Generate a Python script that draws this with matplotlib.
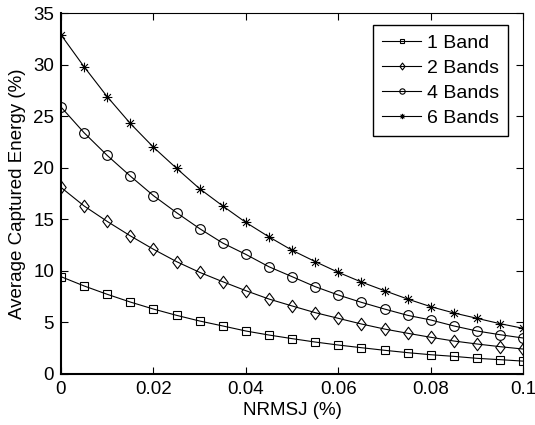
import matplotlib.pyplot as plt
import numpy as np
from matplotlib.path import Path

plt.rcParams['font.family'] = ['Liberation Sans', 'DejaVu Sans']

nrmsj = np.arange(21) * 0.005

band1 = [9.44, 8.54, 7.73, 6.98, 6.30, 5.69, 5.14, 4.66, 4.17, 3.78, 3.43,
         3.10, 2.81, 2.55, 2.30, 2.07, 1.87, 1.71, 1.52, 1.39, 1.25]
band2 = [18.1, 16.3, 14.8, 13.4, 12.1, 10.9, 9.86, 8.95, 8.08, 7.27, 6.60,
         5.95, 5.40, 4.85, 4.36, 3.95, 3.56, 3.20, 2.91, 2.65, 2.42]
band4 = [25.9, 23.4, 21.2, 19.2, 17.3, 15.65, 14.1, 12.7, 11.6, 10.4, 9.44,
         8.47, 7.66, 6.95, 6.30, 5.69, 5.24, 4.66, 4.17, 3.81, 3.49]
band6 = [32.9, 29.8, 26.9, 24.3, 22.0, 19.95, 17.97, 16.3, 14.7, 13.3, 12.0,
         10.9, 9.86, 8.92, 8.08, 7.27, 6.53, 5.92, 5.40, 4.88, 4.43]

labels = ['1 Band', '2 Bands', '4 Bands', '6 Bands']

# matlab-like diamond and asterisk markers
diamond = Path([(0, 1), (0.75, 0), (0, -1), (-0.75, 0), (0, 1)],
               [Path.MOVETO, Path.LINETO, Path.LINETO, Path.LINETO, Path.CLOSEPOLY])
d = 0.7071
asterisk = Path([(0, -1), (0, 1), (-1, 0), (1, 0), (-d, -d), (d, d), (-d, d), (d, -d)],
                [Path.MOVETO, Path.LINETO] * 4)

markers = ['s', diamond, 'o', asterisk]
sizes = [5.5, 9, 7, 7]

fig = plt.figure(figsize=(5.35, 4.25), dpi=100)
ax = fig.add_axes([0.114, 0.12, 0.864, 0.849])

for y, lab, m, s in zip([band1, band2, band4, band6], labels, markers, sizes):
    ax.plot(nrmsj, y, color='black', linewidth=0.8, marker=m, markersize=s,
            markerfacecolor='none', markeredgewidth=0.8,
            markeredgecolor='black', label=lab)

ax.set_xlim(0, 0.1)
ax.set_ylim(0, 35)
ax.set_xticks([0, 0.02, 0.04, 0.06, 0.08, 0.1])
ax.set_xticklabels(['0', '0.02', '0.04', '0.06', '0.08', '0.1'])
ax.set_yticks(range(0, 36, 5))
ax.tick_params(direction='in', top=True, right=True, labelsize=13.5, length=5, width=0.8, pad=5)
for sp in ax.spines.values():
    sp.set_linewidth(0.8)
ax.spines['left'].set_linewidth(1.5)
ax.spines['bottom'].set_linewidth(1.5)

ax.set_xlabel('NRMSJ (%)', fontsize=13.5, labelpad=3)
ax.set_ylabel('Average Captured Energy (%)', fontsize=13.5, labelpad=5)

leg = ax.legend(loc='upper right', fontsize=14, markerscale=0.55, fancybox=False,
                edgecolor='black', framealpha=1, handlelength=2.0, handletextpad=0.3,
                labelspacing=0.38, borderpad=0.48, borderaxespad=0,
                bbox_to_anchor=(0.968, 0.967))
leg.get_frame().set_linewidth(1.0)

fig.savefig('out.png', dpi=100)
